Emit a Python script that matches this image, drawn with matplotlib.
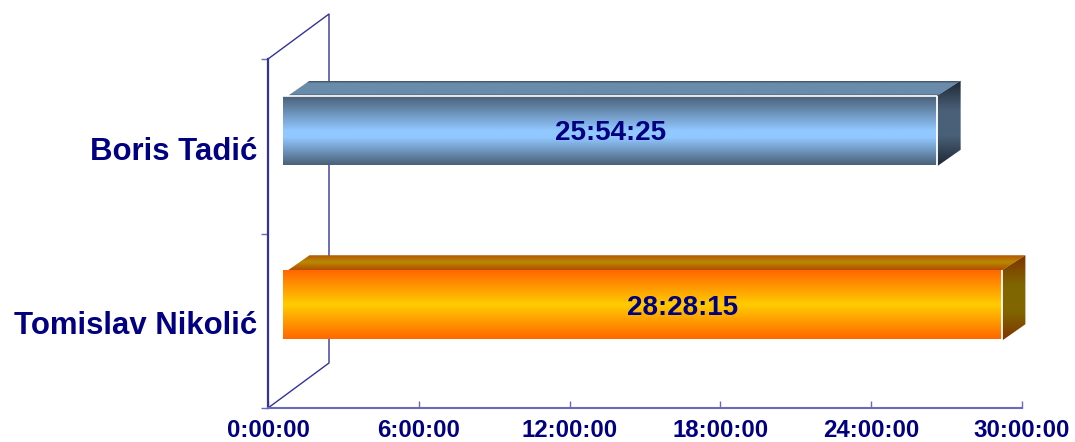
import numpy as np
import matplotlib
matplotlib.use('Agg')
import matplotlib.pyplot as plt
from matplotlib.colors import LinearSegmentedColormap
from matplotlib.patches import Polygon

plt.rcParams['font.family'] = ['Liberation Sans', 'DejaVu Sans']

W, H = 1075, 442
NAVY = '#000080'
AXIS = '#333399'

candidates = ['Boris Tadić', 'Tomislav Nikolić']
durations = ['25:54:25', '28:28:15']
hour_ticks = [0, 6, 12, 18, 24, 30]
hour_labels = ['0:00:00', '6:00:00', '12:00:00', '18:00:00', '24:00:00', '30:00:00']

# where the label sits along its bar, as a share of the bar length
label_share = [0.5, 0.556]

front_colors = [[(0, '#4a6078'), (0.5, '#91c8ff'), (0.6, '#91c8ff'), (1, '#4a6078')],
                ['#ff6600', '#ffcc00', '#ff6600']]
top_colors = [[(0, '#3a4a5c'), (0.15, '#6a8cab'), (0.85, '#6a8cab'), (1, '#3a4a5c')],
              ['#b34d00', '#b88a00', '#b34d00']]
side_colors = [[(0, '#1c2733'), (0.35, '#4a6078'), (0.65, '#4a6078'), (1, '#1c2733')],
               [(0, '#7f3300'), (0.35, '#806600'), (0.65, '#806600'), (1, '#7f3300')]]

def to_hours(s):
    h, m, sec = s.split(':')
    return int(h) + int(m)/60 + int(sec)/3600

def px_box(x0, x1, y0, y1):
    # pixel box measured from the top left -> figure fractions
    return [x0/W, 1 - y1/H, (x1 - x0)/W, (y1 - y0)/H]

def shaded(ax, pts, colors):
    # polygon filled with a vertical gradient
    cmap = LinearSegmentedColormap.from_list('shade', colors)
    pts = np.array(pts)
    poly = Polygon(pts, closed=True, fc='none', ec='none', transform=ax.transData)
    ax.add_patch(poly)
    grad = np.linspace(0, 1, 256).reshape(-1, 1)
    im = ax.imshow(grad, cmap=cmap, aspect='auto', interpolation='bilinear', origin='upper',
                   extent=[pts[:, 0].min(), pts[:, 0].max(), pts[:, 1].max(), pts[:, 1].min()],
                   zorder=3)
    im.set_clip_path(poly)

fig = plt.figure(figsize=(W/100, H/100), dpi=100)

# floor and side wall of the box, 349 px high
ax = fig.add_axes(px_box(268, 1022, 59, 408))
ax.set_xlim(0, 30)
ax.set_ylim(2, 0)
ax.patch.set_alpha(0)
for s in ['top', 'right']:
    ax.spines[s].set_visible(False)
ax.spines['left'].set_color(AXIS)
ax.spines['left'].set_linewidth(1.6)
ax.spines['bottom'].set_color('#6a6ab8')
ax.spines['bottom'].set_linewidth(1.5)

ax.set_xticks(hour_ticks)
ax.set_xticklabels(hour_labels, fontsize=17.3, fontweight='bold', color=NAVY)
ax.tick_params(axis='x', direction='in', length=5, width=1, color='#6a6ab8', pad=8)
ax.set_yticks([0, 1, 2])
ax.set_yticklabels([])
ax.tick_params(axis='y', direction='out', length=5, width=1, color='#6a6ab8')
ax.set_yticks([0.512, 1.512], minor=True)
ax.set_yticklabels(candidates, minor=True, fontsize=22.4, fontweight='bold', color=NAVY)
ax.tick_params(axis='y', which='minor', length=0, pad=8)

wall_dx = 61/754*30
wall_dy = 45/349*2
ax.plot([0, wall_dx, wall_dx, 0], [2, 2 - wall_dy, -wall_dy, 0], color=AXIS, lw=1, clip_on=False)

# bars stand on a plane set slightly in front of the wall
bx = fig.add_axes(px_box(283, 1040.5, 43, 392))
bx.set_xlim(0, 30)
bx.set_ylim(2, 0)
bx.axis('off')

hours = [to_hours(d) for d in durations]
px_x = 30/757.5
px_y = 2/349
depth_x = 23.5*px_x
depth_y = 15*px_y
inset = 5*px_x
bar_h = 69*px_y
for i, v in enumerate(hours):
    c = i + 0.5
    y0, y1 = c - bar_h/2, c + bar_h/2
    shaded(bx, [(inset, y0), (inset + depth_x - 2*px_x, y0 - depth_y),
                (v + depth_x, y0 - depth_y), (v, y0)], top_colors[i])
    shaded(bx, [(v, y0), (v + depth_x, y0 - depth_y), (v + depth_x, y1 - depth_y), (v, y1 + 1.5*px_y)],
           side_colors[i])
    shaded(bx, [(0, y0), (v, y0), (v, y1), (0, y1)], front_colors[i])
    bx.plot([v, v], [y0, y1 + 1.5*px_y], color='white', lw=1.3, zorder=4, solid_capstyle='butt')
    if i == 0:
        bx.plot([0, v], [y0, y0], color='white', lw=1.2, zorder=4, solid_capstyle='butt')
    bx.text(v*label_share[i], c + 3*px_y, durations[i], ha='center', va='center', fontsize=20,
            fontweight='bold', color=NAVY, zorder=5)
bx.set_xlim(0, 30)
bx.set_ylim(2, 0)

fig.savefig('out.png', dpi=100)
